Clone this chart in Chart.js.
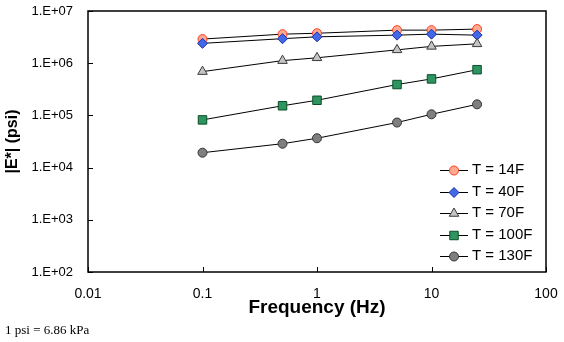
<!DOCTYPE html>
<html><head><meta charset="utf-8">
<script src="https://cdn.jsdelivr.net/npm/chart.js@4/dist/chart.umd.min.js"></script>
<style>html,body{margin:0;padding:0;background:#fff;}#wrap{width:564px;height:342px;position:relative;}</style>
</head><body><div id="wrap"><canvas id="c" width="564" height="342"></canvas></div>
<script>
// ---- data ----
const frequencies = [0.1, 0.5, 1, 5, 10, 25];
const seriesNames = ['T = 14F', 'T = 40F', 'T = 70F', 'T = 100F', 'T = 130F'];
const t14F  = [2.9e6, 3.6e6, 3.75e6, 4.3e6, 4.3e6, 4.5e6];
const t40F  = [2.4e6, 2.95e6, 3.2e6, 3.45e6, 3.6e6, 3.45e6];
const t70F  = [6.9e5, 1.12e6, 1.27e6, 1.8e6, 2.1e6, 2.35e6];
const t100F = [8.2e4, 1.53e5, 1.95e5, 3.9e5, 5.0e5, 7.5e5];
const t130F = [1.93e4, 2.87e4, 3.65e4, 7.3e4, 1.05e5, 1.63e5];
const xTickValues = [0.01, 0.1, 1, 10, 100];
const xTickLabels = ['0.01', '0.1', '1', '10', '100'];
const yTickValues = [1e2, 1e3, 1e4, 1e5, 1e6, 1e7];
const yTickLabels = ['1.E+02', '1.E+03', '1.E+04', '1.E+05', '1.E+06', '1.E+07'];
const xTitle = 'Frequency (Hz)';
const yTitle = '|E*| (psi)';
const footnote = '1 psi = 6.86 kPa';

// ---- styles ----
const seriesValues = [t14F, t40F, t70F, t100F, t130F];
const markerStyles = [
  {shape: 'circle',   fill: '#FFAA90', stroke: '#FF3B1F', r: 4.5},
  {shape: 'rectRot',  fill: '#4169E8', stroke: '#1E2FA8', r: 5},
  {shape: 'triangle', fill: '#C4C4C4', stroke: '#3A3A3A', r: 5.5},
  {shape: 'rect',     fill: '#2E9460', stroke: '#0A4F28', r: 6},
  {shape: 'circle',   fill: '#7F7F7F', stroke: '#333333', r: 4.5}
];

const datasets = seriesValues.map((vals, i) => ({
  label: seriesNames[i],
  data: vals.map((v, j) => ({x: frequencies[j], y: v})),
  borderColor: '#000',
  borderWidth: 1,
  pointStyle: markerStyles[i].shape,
  pointRadius: markerStyles[i].r,
  pointBackgroundColor: markerStyles[i].fill,
  pointBorderColor: markerStyles[i].stroke,
  pointBorderWidth: 1,
  fill: false,
  tension: 0,
  order: seriesValues.length - i
}));

function drawMarker(ctx, st, x, y) {
  ctx.save();
  ctx.fillStyle = st.fill; ctx.strokeStyle = st.stroke; ctx.lineWidth = 1;
  if (Chart.helpers && Chart.helpers.drawPoint) {
    Chart.helpers.drawPoint(ctx, {pointStyle: st.shape, radius: st.r, rotation: 0, borderWidth: 1}, x, y);
    ctx.restore();
    return;
  }
  ctx.beginPath();
  const r = st.r;
  if (st.shape === 'circle') ctx.arc(x, y, r, 0, Math.PI * 2);
  else if (st.shape === 'rect') { const s = r * Math.SQRT1_2; ctx.rect(x - s, y - s, 2 * s, 2 * s); }
  else if (st.shape === 'rectRot') { ctx.moveTo(x, y - r); ctx.lineTo(x + r, y); ctx.lineTo(x, y + r); ctx.lineTo(x - r, y); ctx.closePath(); }
  else if (st.shape === 'triangle') { ctx.moveTo(x, y - r); ctx.lineTo(x + r * 0.866, y + r * 0.5); ctx.lineTo(x - r * 0.866, y + r * 0.5); ctx.closePath(); }
  ctx.fill(); ctx.stroke();
  ctx.restore();
}

const framePlugin = {
  id: 'frame',
  afterDatasetsDraw(chart) {
    const ctx = chart.ctx, ca = chart.chartArea;
    ctx.save();
    ctx.strokeStyle = '#000'; ctx.lineWidth = 1.5;
    ctx.strokeRect(ca.left, ca.top, ca.right - ca.left, ca.bottom - ca.top);
    ctx.lineWidth = 1;
    const xs = chart.scales.x, ys = chart.scales.y;
    ctx.beginPath();
    xs.ticks.forEach(t => { const px = Math.round(xs.getPixelForValue(t.value)) + 0.5; ctx.moveTo(px, ca.bottom); ctx.lineTo(px, ca.bottom - 5); });
    ys.ticks.forEach(t => { const py = Math.round(ys.getPixelForValue(t.value)) + 0.5; ctx.moveTo(ca.left, py); ctx.lineTo(ca.left + 5, py); });
    ctx.stroke();
    // legend inside plot area
    ctx.font = '15px "Liberation Sans", Arial, sans-serif';
    ctx.fillStyle = '#000'; ctx.textBaseline = 'middle'; ctx.textAlign = 'left';
    seriesNames.forEach((name, i) => {
      const y = ca.bottom - 102 + i * 21.5;
      ctx.beginPath(); ctx.strokeStyle = '#000'; ctx.lineWidth = 1;
      ctx.moveTo(ca.right - 106, Math.round(y) + 0.5); ctx.lineTo(ca.right - 78, Math.round(y) + 0.5); ctx.stroke();
      drawMarker(ctx, markerStyles[i], ca.right - 92, Math.round(y) + 0.5);
      ctx.fillStyle = '#000';
      ctx.fillText(name, ca.right - 74, y);
    });
    // footnote
    ctx.font = '13px "Liberation Serif", "Times New Roman", serif';
    ctx.fillStyle = '#000';
    ctx.fillText(footnote, 5, chart.height - 11);
    ctx.restore();
  }
};

new Chart(document.getElementById('c'), {
  type: 'line',
  data: {datasets},
  options: {
    responsive: false,
    animation: false,
    layout: {padding: {top: 11, right: 18, left: 0, bottom: 0}},
    plugins: {legend: {display: false}, tooltip: {enabled: false}},
    scales: {
      x: {
        type: 'logarithmic', position: 'bottom', min: 0.01, max: 100,
        afterBuildTicks: s => { s.ticks = xTickValues.map(v => ({value: v})); },
        afterFit: s => { s.height = 70; s.paddingLeft = 0; s.paddingRight = 0; },
        grid: {display: true, drawOnChartArea: false, drawTicks: false},
        border: {display: false},
        ticks: {
          padding: 14, maxRotation: 0, autoSkip: false, color: '#000',
          font: {family: '"Liberation Sans", Arial, sans-serif', size: 14},
          callback: (v) => { const k = xTickValues.indexOf(v); return k >= 0 ? xTickLabels[k] : ''; }
        },
        title: {display: true, text: xTitle, color: '#000', padding: {top: 0, bottom: 23},
          font: {family: '"Liberation Sans", Arial, sans-serif', size: 19, weight: 'bold'}}
      },
      y: {
        type: 'logarithmic', min: 100, max: 1e7,
        afterBuildTicks: s => { s.ticks = yTickValues.map(v => ({value: v})); },
        afterFit: s => { s.width = 88; s.paddingTop = 0; s.paddingBottom = 0; },
        grid: {display: true, drawOnChartArea: false, drawTicks: false},
        border: {display: false},
        ticks: {
          padding: 15, autoSkip: false, color: '#000',
          font: {family: '"Liberation Sans", Arial, sans-serif', size: 13},
          callback: (v) => { const k = yTickValues.indexOf(v); return k >= 0 ? yTickLabels[k] : ''; }
        },
        title: {display: true, text: yTitle, color: '#000', padding: {top: 3, bottom: 0},
          font: {family: '"Liberation Sans", Arial, sans-serif', size: 16, weight: 'bold'}}
      }
    }
  },
  plugins: [framePlugin]
});
</script></body></html>
